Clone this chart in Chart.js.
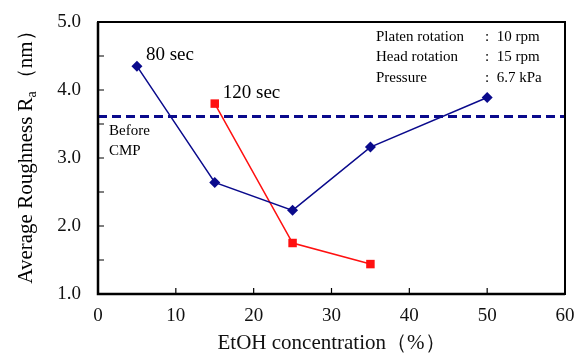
<!DOCTYPE html>
<html>
<head>
<meta charset="utf-8">
<script src="https://cdn.jsdelivr.net/npm/chart.js@4"></script>
<style>
  html, body { margin: 0; padding: 0; background: #fff; }
  #wrap { width: 583px; height: 356px; }
</style>
</head>
<body>
<div id="wrap"><canvas id="roughChart" width="583" height="356"></canvas></div>
<script>
// data
const conc80 = [5, 15, 25, 35, 50];
const ra80 = [4.35, 2.64, 2.23, 3.16, 3.89];
const conc120 = [15, 25, 35];
const ra120 = [3.80, 1.75, 1.44];
const beforeCMP = 3.61;
const xTicks = [0, 10, 20, 30, 40, 50, 60];
const yTicks = [1.0, 2.0, 3.0, 4.0, 5.0];
const conditions = [
  ['Platen rotation', ':  10 rpm'],
  ['Head rotation', ':  15 rpm'],
  ['Pressure', ':  6.7 kPa']
];

const serif = '"Liberation Serif", "Times New Roman", serif';

const toPts = (xs, ys) => xs.map((x, i) => ({ x: x, y: ys[i] }));

const decor = {
  id: 'decor',
  afterDraw(chart) {
    const { ctx, chartArea: a, scales: { x, y } } = chart;
    ctx.save();
    // frame
    ctx.strokeStyle = '#000';
    ctx.lineWidth = 2;
    ctx.strokeRect(a.left, a.top, a.right - a.left, a.bottom - a.top);
    ctx.lineWidth = 2.5;
    ctx.beginPath();
    ctx.moveTo(a.left, a.top);
    ctx.lineTo(a.left, a.bottom);
    ctx.lineTo(a.right, a.bottom);
    ctx.stroke();
    // inward ticks
    ctx.lineWidth = 1.2;
    ctx.beginPath();
    xTicks.forEach(v => {
      const px = x.getPixelForValue(v);
      ctx.moveTo(px, a.bottom);
      ctx.lineTo(px, a.bottom - 6);
    });
    for (let v = 1.5; v < 5; v += 0.5) {
      const py = y.getPixelForValue(v);
      ctx.moveTo(a.left, py);
      ctx.lineTo(a.left + 6, py);
    }
    ctx.stroke();

    ctx.fillStyle = '#000';
    ctx.textBaseline = 'middle';
    // series labels
    ctx.font = '19px ' + serif;
    ctx.fillText('80 sec', x.getPixelForValue(5) + 9, y.getPixelForValue(4.35) - 11);
    ctx.fillText('120 sec', x.getPixelForValue(15) + 8, y.getPixelForValue(3.80) - 11);
    // before CMP
    ctx.font = '15px ' + serif;
    ctx.fillText('Before', a.left + 11, 131);
    ctx.fillText('CMP', a.left + 11, 151);
    // conditions box
    conditions.forEach((row, i) => {
      const py = 37 + i * 20.5;
      ctx.fillText(row[0], 376, py);
      ctx.fillText(row[1], 485, py);
    });
    // y title with subscript
    ctx.translate(26, 152);
    ctx.rotate(-Math.PI / 2);
    ctx.textBaseline = 'middle';
    const t1 = 'Average Roughness R';
    const sub = 'a';
    const t2 = '\uFF08nm\uFF09';
    ctx.font = '21px ' + serif;
    const w1 = ctx.measureText(t1).width;
    const w3 = ctx.measureText(t2).width;
    ctx.font = '14px ' + serif;
    const w2 = ctx.measureText(sub).width;
    const total = w1 + w2 + w3 + 2;
    let cx = -total / 2;
    ctx.font = '21px ' + serif;
    ctx.fillText(t1, cx, 0);
    cx += w1;
    ctx.font = '14px ' + serif;
    ctx.fillText(sub, cx, 6);
    cx += w2 + 2;
    ctx.font = '21px ' + serif;
    ctx.fillText(t2, cx, 0);
    ctx.restore();
  }
};

new Chart(document.getElementById('roughChart'), {
  type: 'scatter',
  data: {
    datasets: [
      {
        label: 'Before CMP',
        data: [{ x: 0, y: beforeCMP }, { x: 60, y: beforeCMP }],
        showLine: true,
        borderColor: '#0a0a8c',
        borderWidth: 3,
        borderDash: [9, 5],
        pointRadius: 0
      },
      {
        label: '80 sec',
        data: toPts(conc80, ra80),
        showLine: true,
        borderColor: '#0a0a8c',
        backgroundColor: '#0a0a8c',
        borderWidth: 1.5,
        pointStyle: 'rectRot',
        pointRadius: 5.5,
        pointBorderWidth: 0
      },
      {
        label: '120 sec',
        data: toPts(conc120, ra120),
        showLine: true,
        borderColor: '#ff1010',
        backgroundColor: '#ff1010',
        borderWidth: 1.5,
        pointStyle: 'rect',
        pointRadius: 6,
        pointBorderWidth: 0
      }
    ]
  },
  options: {
    responsive: false,
    animation: false,
    layout: { padding: { top: 22, right: 18, left: 0, bottom: 0 } },
    plugins: { legend: { display: false }, tooltip: { enabled: false } },
    scales: {
      x: {
        type: 'linear',
        min: 0,
        max: 60,
        afterBuildTicks: s => { s.ticks = xTicks.map(v => ({ value: v })); },
        afterFit: s => { s.height = 62; s.paddingLeft = 0; s.paddingRight = 0; },
        grid: { display: false, drawTicks: false },
        border: { display: false },
        ticks: {
          padding: 11,
          color: '#111',
          font: { family: serif, size: 19 }
        },
        title: {
          display: true,
          text: 'EtOH concentration\uFF08%\uFF09',
          color: '#111',
          font: { family: serif, size: 21 },
          padding: { top: 4, bottom: 0 }
        }
      },
      y: {
        type: 'linear',
        min: 1,
        max: 5,
        afterBuildTicks: s => { s.ticks = yTicks.map(v => ({ value: v })); },
        afterFit: s => { s.width = 98; s.paddingTop = 0; s.paddingBottom = 0; },
        grid: { display: false, drawTicks: false },
        border: { display: false },
        ticks: {
          padding: 17,
          color: '#111',
          font: { family: serif, size: 19 },
          callback: v => v.toFixed(1)
        }
      }
    }
  },
  plugins: [decor]
});
</script>
</body>
</html>
